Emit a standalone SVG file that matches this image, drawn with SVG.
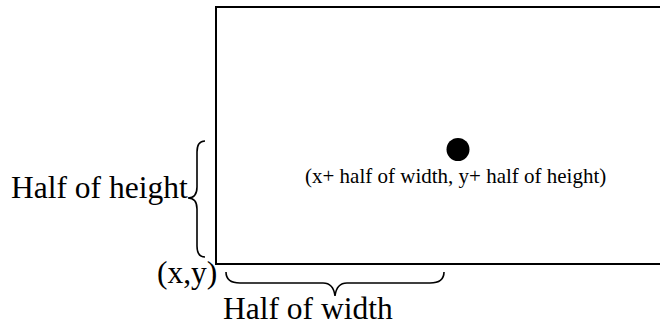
<svg xmlns="http://www.w3.org/2000/svg" width="660" height="325" viewBox="0 0 660 325">
<style>
.lbl{font-family:"Liberation Serif","Times New Roman",serif;fill:#000}
.big{font-size:31.5px}
.small{font-size:21px}
.brace{fill:none;stroke:#000;stroke-width:1.6}
</style>
<rect width="660" height="325" fill="#fff"/>
<g id="rectangle">
<rect x="216" y="7" width="470" height="257" fill="none" stroke="#000" stroke-width="2"/>
</g>
<g id="center-point">
<circle cx="458" cy="149.5" r="11.5" fill="#000"/>
<text class="lbl small" x="305" y="183">(x+ half of width, y+ half of height)</text>
</g>
<g id="origin">
<text class="lbl big" x="157" y="283">(x,y)</text>
</g>
<g id="connectors">
<path class="brace" d="M205,141 C199,141 197,145 197,152 L197,187 C197,194 194,198 188,198 C194,198 197,202 197,209 L197,246 C197,253 199,257 205,257"/>
<path class="brace" d="M226,272 C226,279 231,283 240,283 L323,283 C330,283 334,288 335,296 C336,288 340,283 347,283 L430,283 C439,283 444,279 444,272"/>
</g>
<g id="half-height">
<text class="lbl big" x="11" y="198">Half of height</text>
</g>
<g id="half-width">
<text class="lbl big" x="223" y="319">Half of width</text>
</g>
</svg>
